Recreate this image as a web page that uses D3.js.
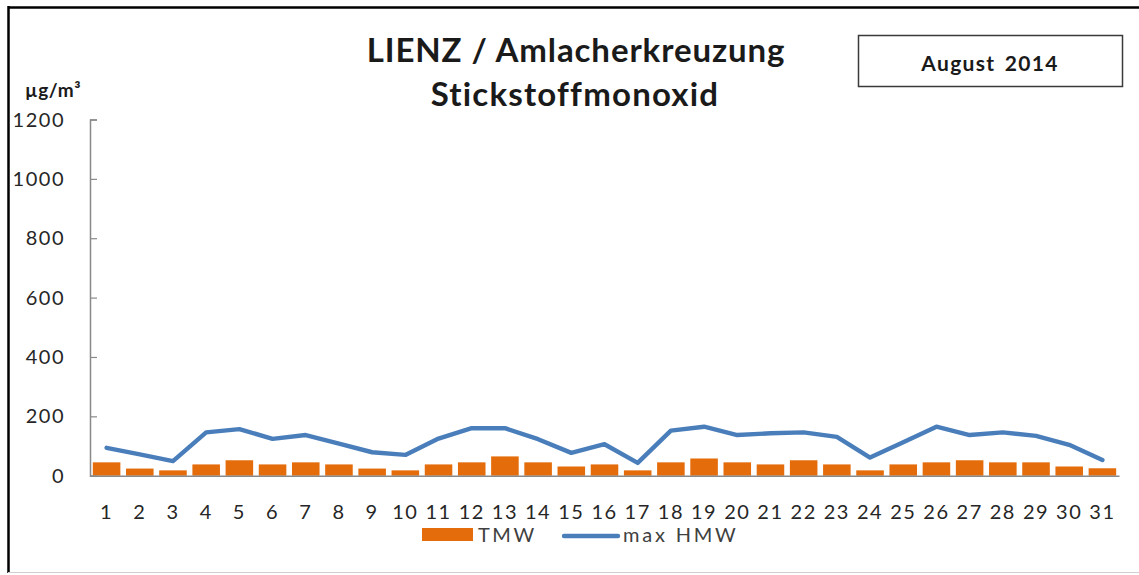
<!DOCTYPE html>
<html>
<head>
<meta charset="utf-8">
<script src="https://cdn.jsdelivr.net/npm/d3@7"></script>
<style>
  html, body { margin: 0; padding: 0; background: #fff; }
  svg { display: block; }
  text { font-family: Lato, "Open Sans", sans-serif; }
</style>
</head>
<body>
<svg id="chart" width="1139" height="575"></svg>
<script>
// Daily values for August 2014, NO at Lienz / Amlacherkreuzung (µg/m³)
const days = d3.range(1, 32).map(String);
const tmw = [45, 24, 18, 38, 52, 38, 45, 38, 24, 18, 38, 45, 65, 45, 31, 38,
             18, 45, 58, 45, 38, 52, 38, 18, 38, 45, 52, 45, 45, 31, 25];
const maxHmw = [94, 72, 49, 146, 157, 124, 137, 108, 79, 70, 125, 160, 160, 123, 77, 106,
                43, 152, 165, 137, 143, 146, 131, 61, 113, 165, 137, 146, 134, 104, 53];
const yTicks = [0, 200, 400, 600, 800, 1000, 1200];
const seriesNames = ["TMW", "max HMW"];
const titleLines = ["LIENZ / Amlacherkreuzung", "Stickstoffmonoxid"];
const periodLabel = "August 2014";
const unitLabel = "µg/m³";

const orange = "#E46C0A";
const blue = "#4A7EBB";
const axisGray = "#898989";
const textColor = "#262626";

const svg = d3.select("#chart");

// Outer frame: black top and left edges, light gray bottom edge
svg.append("line").attr("x1", 8).attr("x2", 1139).attr("y1", 7.5).attr("y2", 7.5)
  .attr("stroke", "#000").attr("stroke-width", 2.5);
svg.append("line").attr("x1", 8.5).attr("x2", 8.5).attr("y1", 6).attr("y2", 573)
  .attr("stroke", "#000").attr("stroke-width", 2.5);
svg.append("line").attr("x1", 8).attr("x2", 1139).attr("y1", 572.5).attr("y2", 572.5)
  .attr("stroke", "#d0d0d0").attr("stroke-width", 1);

// Scales
const x = d3.scaleBand().domain(days).range([90, 1119]).paddingInner(0.17).paddingOuter(0.085);
const y = d3.scaleLinear().domain([0, 1200]).range([475.7, 119.5]);

// Title
svg.append("text").attr("x", 576).attr("y", 62).attr("text-anchor", "middle")
  .attr("font-size", 33).attr("font-weight", 700).attr("letter-spacing", 0.9)
  .attr("fill", "#1a1a1a").text(titleLines[0]);
svg.append("text").attr("x", 575).attr("y", 106).attr("text-anchor", "middle")
  .attr("font-size", 33).attr("font-weight", 700).attr("letter-spacing", 1.2)
  .attr("fill", "#1a1a1a").text(titleLines[1]);

// Period box
svg.append("rect").attr("x", 858.5).attr("y", 35.5).attr("width", 264).attr("height", 51)
  .attr("fill", "#fff").attr("stroke", "#3a3a3a").attr("stroke-width", 1.5);
svg.append("text").attr("x", 990).attr("y", 71).attr("text-anchor", "middle")
  .attr("font-size", 21).attr("font-weight", 700).attr("letter-spacing", 1.3)
  .attr("word-spacing", 3)
  .attr("fill", "#1a1a1a").text(periodLabel);

// Unit label
svg.append("text").attr("x", 25).attr("y", 97)
  .attr("font-size", 19).attr("font-weight", 700).attr("letter-spacing", 0.6)
  .attr("fill", "#1a1a1a").text(unitLabel);

// Bars (TMW)
svg.append("g").selectAll("rect").data(tmw).join("rect")
  .attr("x", (d, i) => x(days[i]))
  .attr("width", x.bandwidth())
  .attr("y", d => y(d))
  .attr("height", d => y(0) - y(d))
  .attr("fill", orange);

// Y axis (ticks point inward)
const yAxis = d3.axisRight(y).tickValues(yTicks).tickSize(7).tickFormat("");
const gy = svg.append("g").attr("transform", "translate(90,0)").call(yAxis);
gy.select(".domain").attr("stroke", axisGray).attr("stroke-width", 1.5);
gy.selectAll(".tick line").attr("stroke", axisGray).attr("stroke-width", 1.2);

svg.append("g").selectAll("text").data(yTicks).join("text")
  .attr("x", 65).attr("y", d => y(d) + 7)
  .attr("text-anchor", "end")
  .attr("font-size", 20).attr("letter-spacing", 1.5)
  .attr("fill", textColor)
  .text(d => d);

// X axis
const xAxis = d3.axisBottom(x).tickSize(0).tickPadding(0);
const gx = svg.append("g").attr("transform", `translate(0,${y(0)})`).call(xAxis);
gx.select(".domain").attr("stroke", axisGray).attr("stroke-width", 1.5);
gx.selectAll(".tick text")
  .attr("y", 43).attr("dy", null)
  .attr("font-family", "Lato, sans-serif")
  .attr("font-size", 20).attr("letter-spacing", 1.5)
  .attr("fill", textColor);

// Line (max HMW)
const line = d3.line().x((d, i) => x(days[i]) + x.bandwidth() / 2).y(d => y(d));
svg.append("path").datum(maxHmw)
  .attr("d", line)
  .attr("fill", "none").attr("stroke", blue).attr("stroke-width", 4.4)
  .attr("stroke-linejoin", "round").attr("stroke-linecap", "round");

// Legend
const legend = svg.append("g");
legend.append("rect").attr("x", 422).attr("y", 528).attr("width", 51).attr("height", 13).attr("fill", orange);
legend.append("text").attr("x", 478).attr("y", 542).attr("font-size", 20).attr("letter-spacing", 2.5)
  .attr("fill", "#404040").text(seriesNames[0]);
legend.append("line").attr("x1", 564).attr("x2", 618).attr("y1", 536).attr("y2", 536)
  .attr("stroke", blue).attr("stroke-width", 4.4).attr("stroke-linecap", "round");
legend.append("text").attr("x", 623).attr("y", 542).attr("font-size", 20).attr("letter-spacing", 2.8)
  .attr("fill", "#404040").text(seriesNames[1]);
</script>
</body>
</html>
